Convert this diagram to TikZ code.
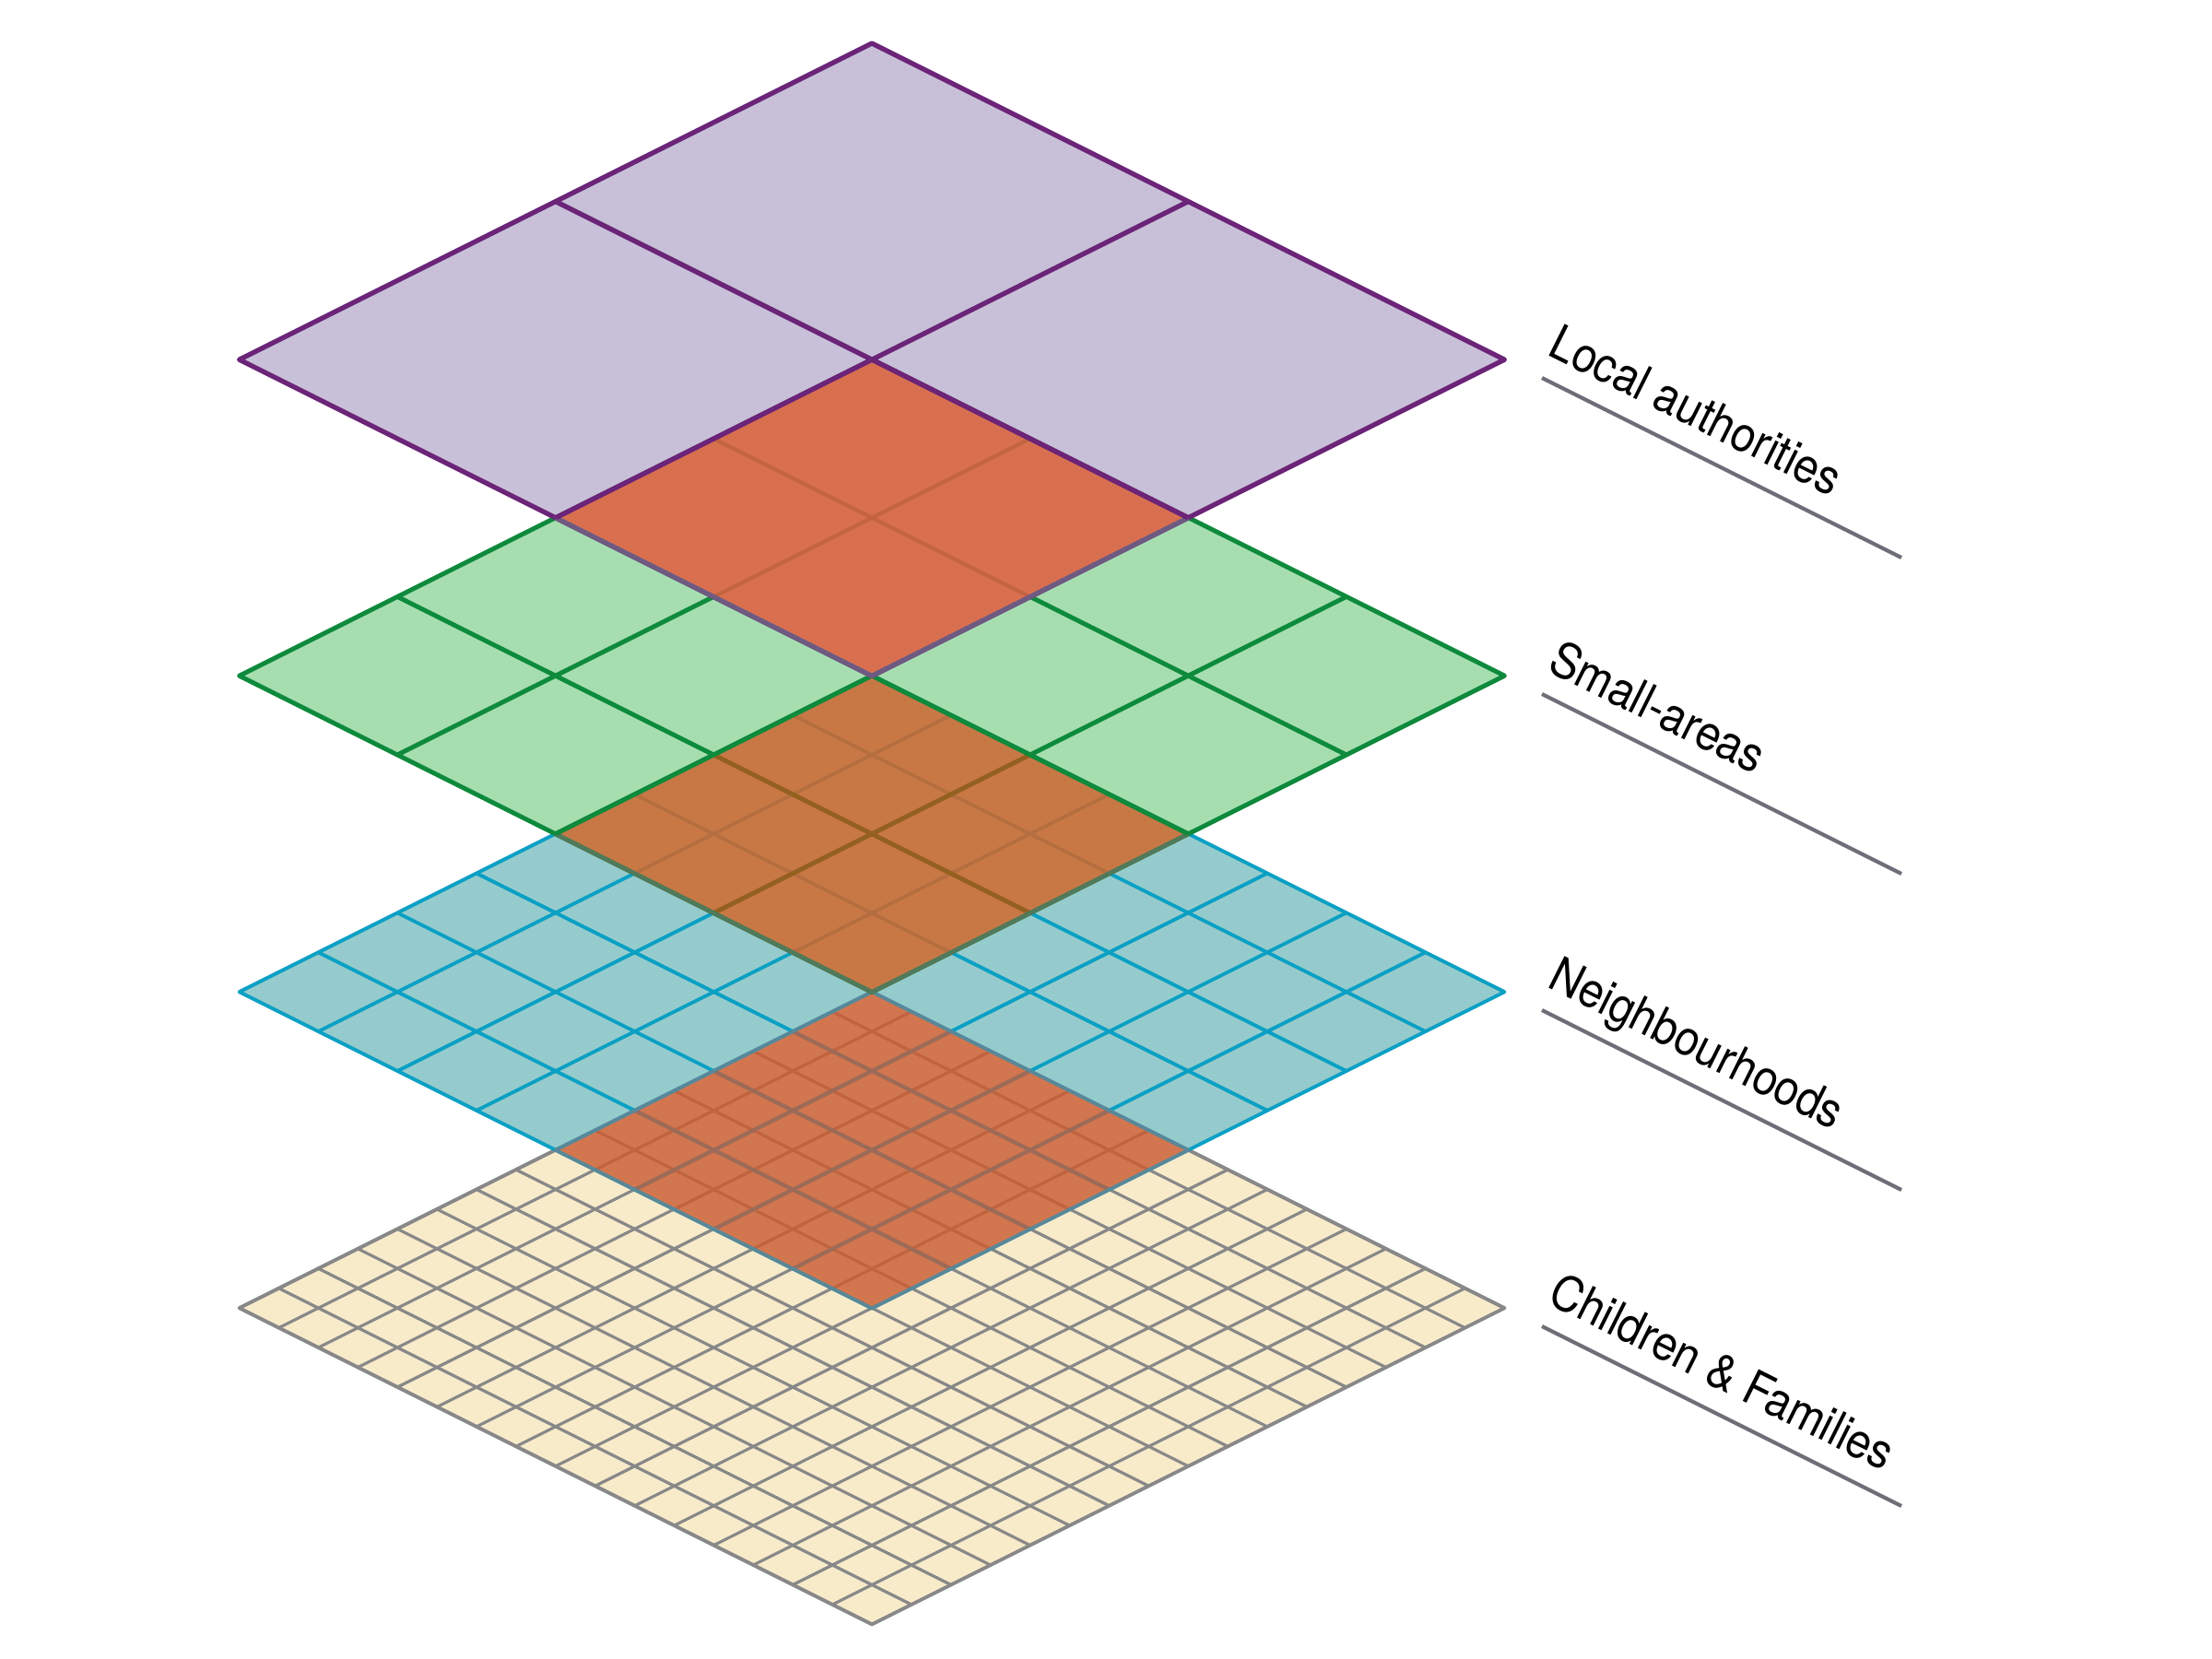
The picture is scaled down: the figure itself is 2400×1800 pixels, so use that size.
\documentclass[tikz,border=0pt]{standalone}
\usepackage{fontspec}
\setmainfont{TeX Gyre Heros}[FakeStretch=0.9]
\definecolor{lafill}{HTML}{C8C0D8}
\definecolor{laline}{HTML}{6B2478}
\definecolor{laedge}{HTML}{6E5A82}
\definecolor{lared}{HTML}{D87050}
\definecolor{lafaint}{HTML}{C4643F}
\definecolor{safill}{HTML}{A6DEB0}
\definecolor{saline}{HTML}{0E8A3C}
\definecolor{saedge}{HTML}{507A5A}
\definecolor{sared}{HTML}{C87845}
\definecolor{safaint}{HTML}{B56E40}
\definecolor{sadark}{HTML}{94601F}
\definecolor{nbfill}{HTML}{96CBCD}
\definecolor{nbline}{HTML}{0AA0C4}
\definecolor{nbedge}{HTML}{5A8898}
\definecolor{nbred}{HTML}{D2764F}
\definecolor{nbfaint}{HTML}{C0643F}
\definecolor{nbdark}{HTML}{9C6A58}
\definecolor{cffill}{HTML}{F8EBCA}
\definecolor{cfline}{HTML}{888888}
\definecolor{labgrey}{HTML}{6E6E78}
\begin{document}
\begin{tikzpicture}[x=0.01cm,y=-0.01cm,line join=round,
  iso/.style={x={(6.86cm,-3.43cm)},y={(-6.86cm,-3.43cm)}},
  labline/.style={draw=labgrey,line width=1.2pt},
  labtext/.style={anchor=base west,rotate=-26.565,inner sep=0pt,font=\fontsize{15}{18}\selectfont}]
\useasboundingbox (0,0) rectangle (2400,1800);
\coordinate (cf-top) at (946,1076);
\coordinate (nb-top) at (946,733);
\coordinate (sa-top) at (946,390);
\coordinate (la-top) at (946,47);

\begin{scope}[shift={(cf-top)},iso]
\fill[cffill] (0,0) -- (1,0) -- (1,1) -- (0,1) -- cycle;
\foreach \i in {1,...,15}
  \draw[cfline,line width=0.9pt] (\i/16,0) -- (\i/16,1) (0,\i/16) -- (1,\i/16);
\draw[cfline,line width=1.1pt] (0,0) -- (1,0) -- (1,1) -- (0,1) -- cycle;
\end{scope}

\begin{scope}[shift={(nb-top)},iso]
\fill[nbfill] (0,0) -- (1,0) -- (1,1) -- (0,1) -- cycle;
\foreach \i in {1,...,7}
  \draw[nbline,line width=1.1pt] (\i/8,0) -- (\i/8,1) (0,\i/8) -- (1,\i/8);
\draw[nbline,line width=1.1pt] (0,0) -- (1,0) -- (1,1) -- (0,1) -- cycle;
\fill[nbred] (0.5,0.5) -- (1,0.5) -- (1,1) -- (0.5,1) -- cycle;
\foreach \i in {9,...,15}
  \draw[nbfaint,line width=0.95pt] (\i/16,0.5) -- (\i/16,1) (0.5,\i/16) -- (1,\i/16);
\foreach \i in {5,6,7}
  \draw[nbdark,line width=1.2pt] (\i/8,0.5) -- (\i/8,1) (0.5,\i/8) -- (1,\i/8);
\draw[nbedge,line width=1.1pt] (0.5,0.5) -- (1,0.5) -- (1,1) -- (0.5,1) -- cycle;
\end{scope}

\begin{scope}[shift={(sa-top)},iso]
\fill[safill] (0,0) -- (1,0) -- (1,1) -- (0,1) -- cycle;
\foreach \i in {1,2,3}
  \draw[saline,line width=1.4pt] (\i/4,0) -- (\i/4,1) (0,\i/4) -- (1,\i/4);
\draw[saline,line width=1.4pt] (0,0) -- (1,0) -- (1,1) -- (0,1) -- cycle;
\fill[sared] (0.5,0.5) -- (1,0.5) -- (1,1) -- (0.5,1) -- cycle;
\foreach \i in {5,6,7}
  \draw[safaint,line width=1.1pt] (\i/8,0.5) -- (\i/8,1) (0.5,\i/8) -- (1,\i/8);
\draw[sadark,line width=1.4pt] (0.75,0.5) -- (0.75,1) (0.5,0.75) -- (1,0.75);
\draw[saedge,line width=1.4pt] (1,0.5) -- (1,1) -- (0.5,1);
\draw[saline,line width=1.4pt] (0.5,1) -- (0.5,0.5) -- (1,0.5);
\end{scope}

\begin{scope}[shift={(la-top)},iso]
\fill[lafill] (0,0) -- (1,0) -- (1,1) -- (0,1) -- cycle;
\draw[laline,line width=1.5pt] (0.5,0) -- (0.5,1) (0,0.5) -- (1,0.5);
\draw[laline,line width=1.5pt] (0,0) -- (1,0) -- (1,1) -- (0,1) -- cycle;
\fill[lared] (0.5,0.5) -- (1,0.5) -- (1,1) -- (0.5,1) -- cycle;
\draw[lafaint,line width=1.2pt] (0.75,0.5) -- (0.75,1) (0.5,0.75) -- (1,0.75);
\draw[laedge,line width=1.5pt] (1,0.5) -- (1,1) -- (0.5,1);
\draw[laline,line width=1.5pt] (0.5,1) -- (0.5,0.5) -- (1,0.5);
\end{scope}

\coordinate (la-ls) at (1673,410);
\coordinate (la-le) at (2063,605);
\coordinate (sa-ls) at (1673,753);
\coordinate (sa-le) at (2063,948);
\coordinate (nb-ls) at (1673,1096);
\coordinate (nb-le) at (2063,1291);
\coordinate (cf-ls) at (1673,1439);
\coordinate (cf-le) at (2063,1634);
\draw[labline] (la-ls) -- (la-le);
\draw[labline] (sa-ls) -- (sa-le);
\draw[labline] (nb-ls) -- (nb-le);
\draw[labline] (cf-ls) -- (cf-le);
\node[labtext] (la-lab) at ([shift={(4,-26)}]la-ls) {Local authorities};
\node[labtext] (sa-lab) at ([shift={(4,-26)}]sa-ls) {Small-areas};
\node[labtext] (nb-lab) at ([shift={(4,-26)}]nb-ls) {Neighbourhoods};
\node[labtext] (cf-lab) at ([shift={(4,-26)}]cf-ls) {Children \& Families};
\end{tikzpicture}
\end{document}
